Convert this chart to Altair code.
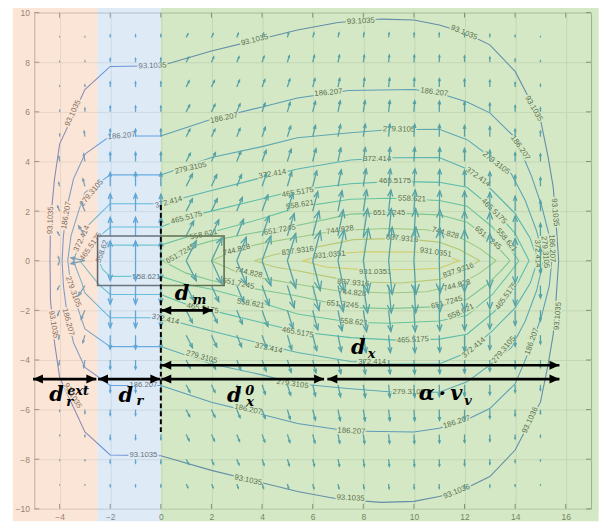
import altair as alt
import pandas as pd

# ---------------- axes ----------------
X_DOMAIN = [-5, 17]
Y_DOMAIN = [-10, 10]
X_TICKS = [-4, -2, 0, 2, 4, 6, 8, 10, 12, 14, 16]
Y_TICKS = [-10, -8, -6, -4, -2, 0, 2, 4, 6, 8, 10]

# ---------------- contour levels ----------------
LEVELS = ["93.1035", "186.207", "279.3105", "372.414", "465.5175",
          "558.621", "651.7245", "744.828", "837.9316", "931.0351"]
LEVEL_COLORS = ["#1d4abe", "#1066db", "#137ed7", "#0c94cf", "#0da7c3",
                "#27b4ab", "#56ba90", "#8ebf74", "#c8bc5a", "#fac637"]

# upper half of each contour; the field is mirror-symmetric in y
C1_X = [-4.38, -4.36, -4.2, -4.0, -3.0, -2.0, 0.0, 2.0, 4.0, 5.4, 7.0, 8.7, 10.0, 11.0, 12.0, 13.0, 14.0, 14.5, 15.0, 15.3, 15.5, 15.6, 15.72]
C1_Y = [0.0, 1.6, 3.3, 4.7, 6.9, 7.83, 7.86, 8.45, 8.95, 9.3, 9.6, 9.74, 9.7, 9.5, 9.2, 8.7, 7.63, 6.65, 5.7, 4.2, 3.0, 1.8, 0.0]
C2_X = [-3.9, -3.85, -3.7, -3.45, -3.0, -2.0, 0.0, 2.0, 4.0, 5.4, 7.4, 10.0, 11.0, 12.1, 13.0, 14.0, 14.65, 15.05, 15.35, 15.45]
C2_Y = [0.0, 1.0, 2.2, 3.3, 4.3, 5.03, 5.03, 5.7, 6.2, 6.56, 6.86, 6.9, 6.75, 6.4, 5.96, 4.96, 3.4, 2.2, 1.0, 0.0]
C3_X = [-3.68, -3.55, -3.25, -3.0, -2.0, 0.0, 2.0, 4.0, 5.4, 7.5, 9.0, 11.0, 12.1, 13.0, 13.85, 14.4, 14.85, 15.12]
C3_Y = [0.0, 1.0, 2.0, 2.75, 3.46, 3.46, 4.16, 4.6, 4.96, 5.16, 5.28, 5.3, 4.88, 4.2, 3.5, 2.43, 1.2, 0.0]
C4_X = [-3.46, -3.12, -3.0, -2.0, 0.0, 2.0, 4.0, 5.4, 7.5, 9.0, 11.0, 12.1, 13.1, 14.0, 14.6, 14.88]
C4_Y = [0.0, 0.89, 1.3, 2.3, 2.3, 2.83, 3.35, 3.7, 4.06, 4.15, 4.16, 3.7, 2.83, 1.9, 0.9, 0.0]
C5_X = [-3.2, -2.76, -2.4, -2.0, 0.0, 1.0, 2.0, 4.0, 5.4, 7.5, 9.3, 11.0, 12.1, 13.2, 14.0, 14.55]
C5_Y = [0.0, 0.57, 1.0, 1.36, 1.36, 1.75, 2.0, 2.5, 2.85, 3.1, 3.2, 3.16, 2.96, 2.03, 1.1, 0.0]
C6_X = [-2.45, -2.3, -2.0, 0.0, 1.0, 2.0, 4.0, 5.4, 7.5, 9.0, 11.0, 12.1, 13.1, 13.7, 14.15]
C6_Y = [0.0, 0.35, 0.63, 0.63, 0.95, 1.15, 1.7, 2.15, 2.48, 2.52, 2.43, 2.2, 1.36, 0.6, 0.0]
C7_X = [0.05, 1.0, 2.0, 3.0, 4.1, 5.3, 7.5, 9.0, 11.0, 12.1, 12.9, 13.4, 13.8]
C7_Y = [0.0, 0.5, 0.8, 1.0, 1.2, 1.4, 1.88, 1.93, 1.85, 1.55, 0.95, 0.45, 0.0]
C8_X = [2.0, 3.0, 4.0, 5.4, 7.0, 9.0, 10.5, 11.8, 12.6, 13.25]
C8_Y = [0.0, 0.45, 0.7, 0.95, 1.22, 1.3, 1.25, 0.95, 0.5, 0.0]
C9_X = [3.7, 4.5, 5.4, 7.0, 7.6, 9.5, 11.0, 11.8, 12.6]
C9_Y = [0.0, 0.25, 0.4, 0.72, 0.85, 0.9, 0.75, 0.45, 0.0]
C10_X = [5.6, 6.5, 8.0, 10.0, 11.0, 11.8]
C10_Y = [0.0, 0.25, 0.36, 0.35, 0.3, 0.0]

CONTOURS_X = [C1_X, C2_X, C3_X, C4_X, C5_X, C6_X, C7_X, C8_X, C9_X, C10_X]
CONTOURS_Y = [C1_Y, C2_Y, C3_Y, C4_Y, C5_Y, C6_Y, C7_Y, C8_Y, C9_Y, C10_Y]

# contour labels: text, x, y, rotation (deg, clockwise)
LABEL_TEXT = [
    "93.1035", "93.1035", "93.1035", "93.1035", "93.1035", "93.1035", "93.1035", "93.1035",
    "186.207", "186.207", "186.207", "186.207", "186.207", "186.207", "186.207",
    "279.3105", "279.3105", "279.3105", "279.3105", "279.3105",
    "372.414", "372.414", "372.414", "372.414", "372.414", "372.414",
    "465.5175", "465.5175", "465.5175", "465.5175", "465.5175",
    "558.62", "558.621", "558.621", "558.621", "558.621",
    "651.7245", "651.7245", "651.7245", "651.7245",
    "744.828", "744.828", "744.828",
    "837.9316", "837.9316",
    "931.0351", "931.0351",
    "93.1035", "93.1035", "93.1035", "93.1035", "93.1035", "93.1036", "93.1036", "93.1035",
    "186.207", "186.207", "186.207", "186.207", "186.207", "186.207",
    "279.3105", "279.3105", "279.3105", "279.3105", "279.3105",
    "372.414", "372.414", "372.414", "372.414",
    "465.5175", "465.5175", "465.5175", "465.5175",
    "558.621", "558.621", "558.621", "558.621",
    "651.7245", "651.7245", "651.7245",
    "744.828", "744.828", "744.828",
    "837.9316", "837.9316",
    "931.0351",
]
LABEL_X = [
    -0.33, -4.35, -3.47, 3.71, 7.9, 11.98, 14.73, 15.57,
    -3.73, -1.55, 2.5, 6.62, 10.8, 14.2, 15.45,
    -2.73, 1.18, 9.41, 13.25, 15.18,
    -3.12, 0.31, 4.41, 8.55, 12.53, 14.88,
    -2.76, 1.02, 5.41, 9.25, 13.16,
    -2.31, 1.69, 5.5, 9.92, 13.65,
    0.78, 4.7, 9.02, 12.92,
    3.0, 7.08, 11.24,
    5.41, 9.53,
    6.67, 10.86,
    -4.25, -3.49, -0.69, 3.45, 7.5, 11.69, 14.6, 15.69,
    -3.67, -0.69, 3.45, 7.53, 11.69, 14.67,
    -3.47, 1.61, 5.2, 9.79, 13.55,
    0.18, 4.26, 8.35, 12.37,
    1.65, 5.41, 9.96, 13.65,
    -0.57, 3.55, 7.63, 11.86,
    3.06, 7.18, 11.3,
    3.47, 7.57, 11.7,
    7.6, 11.76,
    8.47,
]
LABEL_Y = [
    7.85, 1.63, 5.95, 8.89, 9.65, 9.19, 6.13, 1.95,
    1.83, 5.03, 5.75, 6.77, 6.79, 4.55, 0.5,
    2.73, 3.73, 5.29, 3.93, 0.35,
    0.89, 2.35, 3.49, 4.09, 3.37, 0.29,
    0.57, 1.73, 2.75, 3.23, 1.99,
    0.37, 1.05, 2.25, 2.49, 0.83,
    0.27, 1.23, 1.93, 0.91,
    0.43, 1.23, 1.11,
    0.39, 0.89,
    0.23, 0.33,
    -2.57, -5.45, -7.83, -8.85, -9.57, -9.31, -6.43, -2.23,
    -2.47, -4.99, -6.0, -6.87, -6.51, -3.25,
    -1.25, -3.89, -4.97, -5.3, -3.59,
    -2.37, -3.53, -4.1, -3.51,
    -1.93, -2.9, -3.19, -1.43,
    -0.65, -1.73, -2.48, -2.07,
    -0.93, -1.77, -1.69,
    -0.49, -1.3, -1.0,
    -0.9, -0.4,
    -0.45,
]
LABEL_ANGLE = [
    358, 272, 295, 346, 357, 22, 60, 85,
    280, 355, 348, 355, 8, 55, 88,
    310, 347, 1, 38, 85,
    295, 345, 350, 0, 35, 88,
    305, 345, 350, 0, 45,
    290, 348, 350, 2, 50,
    330, 350, 0, 40,
    345, 352, 15,
    352, 5,
    355, 8,
    80, 60, 0, 12, 3, 338, 295, 275,
    75, 0, 12, 3, 342, 290,
    70, 15, 8, 0, 310,
    12, 12, 0, 320,
    10, 10, 357, 305,
    0, 10, 5, 335,
    12, 5, 345,
    12, 5, 345,
    5, 340,
    0,
]

# ---------------- quiver (upper half rows y = 0..9; lower half is the mirror) ----------------
Q_COLS = [-4, -3, -2, -1, 0, 1, 2, 3, 4, 5, 6, 7, 8, 9, 10, 11, 12, 13, 14, 15]
Q_ROWS = [0, 1, 2, 3, 4, 5, 6, 7, 8, 9]
Q_V = [
    [0.15, 0.12, 0.80, 0.80, 0.80, 0.80, 0.93, 0.95, 1.00, 1.10, 1.20, 1.25, 1.30, 1.35, 1.35, 1.30, 1.25, 1.10, 0.90, 0.50],
    [0.15, 0.40, 0.75, 0.75, 0.75, 0.60, 0.65, 0.67, 0.80, 0.90, 1.00, 1.05, 1.10, 1.10, 1.10, 1.05, 1.00, 0.95, 0.80, 0.50],
    [0.20, 0.35, 0.70, 0.70, 0.68, 0.50, 0.50, 0.55, 0.65, 0.72, 0.78, 0.82, 0.85, 0.85, 0.85, 0.82, 0.80, 0.75, 0.60, 0.42],
    [0.15, 0.30, 0.56, 0.56, 0.55, 0.50, 0.47, 0.47, 0.52, 0.58, 0.62, 0.66, 0.70, 0.70, 0.70, 0.68, 0.65, 0.58, 0.45, 0.35],
    [0.20, 0.30, 0.36, 0.36, 0.36, 0.33, 0.36, 0.40, 0.45, 0.50, 0.52, 0.55, 0.56, 0.56, 0.56, 0.55, 0.52, 0.45, 0.35, 0.30],
    [0.10, 0.22, 0.30, 0.30, 0.30, 0.30, 0.30, 0.33, 0.38, 0.42, 0.45, 0.48, 0.50, 0.50, 0.50, 0.48, 0.45, 0.40, 0.30, 0.22],
    [0.06, 0.15, 0.23, 0.23, 0.23, 0.28, 0.30, 0.32, 0.35, 0.38, 0.42, 0.44, 0.45, 0.45, 0.45, 0.43, 0.40, 0.35, 0.25, 0.16],
    [0.04, 0.08, 0.20, 0.20, 0.20, 0.25, 0.26, 0.28, 0.30, 0.32, 0.34, 0.35, 0.36, 0.36, 0.36, 0.34, 0.32, 0.28, 0.18, 0.10],
    [0.03, 0.05, 0.15, 0.15, 0.16, 0.20, 0.21, 0.22, 0.24, 0.26, 0.27, 0.28, 0.28, 0.28, 0.28, 0.27, 0.25, 0.20, 0.12, 0.06],
    [0.02, 0.03, 0.10, 0.10, 0.11, 0.14, 0.15, 0.16, 0.17, 0.18, 0.18, 0.18, 0.18, 0.18, 0.18, 0.17, 0.16, 0.12, 0.08, 0.03],
]
Q_U = [
    [-0.05, -0.55, 0, 0, 0, 0.40, 0.42, 0.38, 0.35, 0.33, 0.30, 0.25, 0.20, 0.14, 0.08, 0.04, 0, 0, 0, 0],
    [-0.08, -0.25, 0, 0, 0, 0.30, 0.29, 0.27, 0.28, 0.27, 0.25, 0.21, 0.17, 0.11, 0.07, 0.03, 0, 0, 0, 0],
    [-0.08, -0.15, 0, 0, 0, 0.25, 0.23, 0.22, 0.23, 0.22, 0.20, 0.16, 0.13, 0.09, 0.05, 0.02, 0, 0, 0, 0],
    [-0.04, -0.08, 0, 0, 0, 0.25, 0.21, 0.19, 0.18, 0.17, 0.16, 0.13, 0.11, 0.07, 0.04, 0.02, 0, 0, 0, 0],
    [-0.03, -0.05, 0, 0, 0, 0.17, 0.16, 0.16, 0.16, 0.15, 0.13, 0.11, 0.08, 0.06, 0.03, 0.02, 0, 0, 0, 0],
    [0, -0.03, 0, 0, 0, 0.15, 0.14, 0.13, 0.13, 0.13, 0.11, 0.10, 0.08, 0.05, 0.03, 0.01, 0, 0, 0, 0],
    [0, 0, 0, 0, 0, 0.14, 0.14, 0.13, 0.12, 0.11, 0.11, 0.09, 0.07, 0.05, 0.03, 0.01, 0, 0, 0, 0],
    [0, 0, 0, 0, 0, 0.12, 0.12, 0.11, 0.11, 0.10, 0.09, 0.07, 0.05, 0.04, 0.02, 0.01, 0, 0, 0, 0],
    [0, 0, 0, 0, 0, 0.10, 0.09, 0.09, 0.08, 0.08, 0.07, 0.06, 0.04, 0.03, 0.02, 0.01, 0, 0, 0, 0],
    [0, 0, 0, 0, 0, 0.07, 0.07, 0.06, 0.06, 0.05, 0.05, 0.04, 0.03, 0.02, 0.01, 0, 0, 0, 0, 0],
]

# ---------------- overlaid regions ----------------
REGION_X0 = [-5.85, -2.5, 0.0]
REGION_X1 = [-2.5, 0.0, 17.3]
REGION_Y0 = [-10.5, -10.5, -10.5]
REGION_Y1 = [10.4, 10.4, 10.4]
REGION_COLOR = ["#f8cbad", "#bdd7ee", "#a9d18e"]

BOX_X = [-2.5, 2.5]
BOX_Y = [-1.0, 1.0]

DASH_X = [0.0]
DASH_Y = [2.25, -6.9]

# dimension arrows (d_r^ext, d_r, d_x^0, alpha*v_v, d_x, d_m)
ARROW_X0 = [-5.05, -2.48, 0.02, 6.58, 0.02, 0.02]
ARROW_X1 = [-2.55, -0.02, 6.45, 15.75, 15.75, 2.05]
ARROW_Y = [-4.77, -4.77, -4.77, -4.77, -4.21, -2.0]

MATH_TEXT = ["d", "d", "d", "d", "d", "α\u2009·\u2009v"]
MATH_X = [-4.12, -1.39, 2.9, 7.8, 0.84, 11.05]
MATH_Y = [-5.42, -5.44, -5.46, -3.52, -1.34, -5.38]
SUB_TEXT = ["r", "r", "x", "x", "m", "v", "ext", "0"]
SUB_X = [-3.6, -0.83, 3.53, 8.33, 1.53, 12.14, -3.27, 3.51]
SUB_Y = [-5.68, -5.66, -5.7, -3.76, -1.6, -5.66, -5.24, -5.27]

# ---------------- tables ----------------
rows = []
for i, (xs, ys) in enumerate(zip(CONTOURS_X, CONTOURS_Y)):
    for k, (xv, yv) in enumerate(zip(xs, ys)):
        rows.append({"x": xv, "y": yv, "seg": f"{i}u", "lev": LEVELS[i], "k": k})
        rows.append({"x": xv, "y": -yv, "seg": f"{i}l", "lev": LEVELS[i], "k": k})
cdf = pd.DataFrame(rows)

ldf = pd.DataFrame({"t": LABEL_TEXT, "x": LABEL_X, "y": LABEL_Y, "ang": LABEL_ANGLE})

qrows = []
for r, yv in enumerate(Q_ROWS):
    for c, xv in enumerate(Q_COLS):
        u, v = Q_U[r][c], Q_V[r][c]
        qrows.append({"x": xv, "y": yv, "u": u, "v": v})
        qrows.append({"x": xv, "y": -yv, "u": u, "v": -v})
qdf = pd.DataFrame(qrows)

tdf = pd.DataFrame({"x0": REGION_X0, "x1": REGION_X1, "y0": REGION_Y0, "y1": REGION_Y1, "c": REGION_COLOR})
bdf = pd.DataFrame({"x0": [BOX_X[0]], "x1": [BOX_X[1]], "y0": [BOX_Y[0]], "y1": [BOX_Y[1]]})
ddf = pd.DataFrame({"x": DASH_X, "y0": [DASH_Y[0]], "y1": [DASH_Y[1]]})
adf = pd.DataFrame({"x0": ARROW_X0, "x1": ARROW_X1, "y": ARROW_Y})
hl = pd.DataFrame({"x": ARROW_X0, "y": ARROW_Y})
hr = pd.DataFrame({"x": ARROW_X1, "y": ARROW_Y})
mdf = pd.DataFrame({"t": MATH_TEXT, "x": MATH_X, "y": MATH_Y})
sdf = pd.DataFrame({"t": SUB_TEXT, "x": SUB_X, "y": SUB_Y})
xt = pd.DataFrame({"v": X_TICKS})
yt = pd.DataFrame({"v": Y_TICKS})

# ---------------- encodings ----------------
W, H = 561, 500
SX = alt.Scale(domain=X_DOMAIN, nice=False, zero=False)
SY = alt.Scale(domain=Y_DOMAIN, nice=False, zero=False)
AX = alt.Axis(values=X_TICKS, grid=True, gridColor="#dcdcdc", gridWidth=1, ticks=False,
              domain=False, labelFontSize=8.5, labelColor="#333333", labelFont="Liberation Sans",
              labelPadding=4, labelFlush=False, title=None, zindex=0)
AY = alt.Axis(values=Y_TICKS, grid=True, gridColor="#dcdcdc", gridWidth=1, ticks=False,
              domain=False, labelFontSize=8.5, labelColor="#333333", labelFont="Liberation Sans",
              labelPadding=5, labelFlush=False, title=None, zindex=0)


def ex(f):
    return alt.X(f"{f}:Q", scale=SX, axis=AX)


def ey(f):
    return alt.Y(f"{f}:Q", scale=SY, axis=AY)


FONT = "Liberation Sans"

ticks_b = alt.Chart(xt).mark_rule(color="#555555", strokeWidth=1).encode(
    x=ex("v"), y=alt.value(H), y2=alt.value(H - 5))
ticks_t = alt.Chart(xt).mark_rule(color="#555555", strokeWidth=1).encode(
    x=ex("v"), y=alt.value(0), y2=alt.value(5))
ticks_l = alt.Chart(yt).mark_rule(color="#555555", strokeWidth=1).encode(
    y=ey("v"), x=alt.value(0), x2=alt.value(5))
ticks_r = alt.Chart(yt).mark_rule(color="#555555", strokeWidth=1).encode(
    y=ey("v"), x=alt.value(W), x2=alt.value(W - 5))

contours = alt.Chart(cdf).mark_line(strokeWidth=1.1).encode(
    x=ex("x"), y=ey("y"), detail="seg:N", order="k:Q",
    color=alt.Color("lev:N", scale=alt.Scale(domain=LEVELS, range=LEVEL_COLORS), legend=None))

halo = alt.Chart(ldf).mark_text(font=FONT, fontSize=7.8, color="white", stroke="white",
                                strokeWidth=3, baseline="middle", align="center").encode(
    x=ex("x"), y=ey("y"), text="t:N", angle=alt.Angle("ang:Q", scale=None))
labels = alt.Chart(ldf).mark_text(font=FONT, fontSize=7.8, color="#000000",
                                  baseline="middle", align="center").encode(
    x=ex("x"), y=ey("y"), text="t:N", angle=alt.Angle("ang:Q", scale=None))

qbase = alt.Chart(qdf).transform_filter("datum.u != 0 || datum.v != 0").transform_calculate(
    x2="datum.x + datum.u",
    y2="datum.y + datum.v",
    lenpx="sqrt(pow(datum.u*25.5, 2) + pow(datum.v*25, 2))",
    ang="(atan2(datum.u*25.5, datum.v*25)*180/PI + 360) % 360",
).transform_calculate(hs="4*pow(0.3*datum.lenpx, 2)")
shafts = qbase.mark_rule(color="#0072bd", strokeWidth=1.3).encode(
    x=ex("x"), y=ey("y"), x2="x2:Q", y2="y2:Q")
heads = qbase.mark_point(shape="M-0.4,1L0,0L0.4,1", filled=False, color="#0072bd",
                         strokeWidth=1.3, opacity=1).encode(
    x=ex("x2"), y=ey("y2"), angle=alt.Angle("ang:Q", scale=None), size=alt.Size("hs:Q", scale=None))

box = alt.Chart(bdf).mark_rect(fillOpacity=0, stroke="#111111", strokeWidth=1.6).encode(
    x=ex("x0"), x2="x1:Q", y=ey("y0"), y2="y1:Q")

tint = alt.Chart(tdf).mark_rect(opacity=0.5).encode(
    x=ex("x0"), x2="x1:Q", y=ey("y0"), y2="y1:Q", color=alt.Color("c:N", scale=None))

dash = alt.Chart(ddf).mark_rule(color="black", strokeWidth=2, strokeDash=[5, 3]).encode(
    x=ex("x"), y=ey("y0"), y2="y1:Q")

arrows = alt.Chart(adf).mark_rule(color="black", strokeWidth=2.6).encode(
    x=ex("x0"), x2="x1:Q", y=ey("y"))
heads_l = alt.Chart(hl).mark_point(shape="M0,0L1,-0.45L1,0.45Z", filled=True, color="black",
                                   size=400, opacity=1).encode(x=ex("x"), y=ey("y"))
heads_r = alt.Chart(hr).mark_point(shape="M0,0L-1,-0.45L-1,0.45Z", filled=True, color="black",
                                   size=400, opacity=1).encode(x=ex("x"), y=ey("y"))

math_main = alt.Chart(mdf).mark_text(font="DejaVu Serif", fontStyle="italic", fontWeight="bold",
                                     fontSize=21, color="black", baseline="middle",
                                     align="center").encode(x=ex("x"), y=ey("y"), text="t:N")
math_sub = alt.Chart(sdf).mark_text(font="DejaVu Serif", fontStyle="italic", fontWeight="bold",
                                    fontSize=13, color="black", baseline="middle",
                                    align="center").encode(x=ex("x"), y=ey("y"), text="t:N")

chart = alt.layer(
    contours, halo, labels, shafts, heads, box, ticks_b, ticks_t, ticks_l, ticks_r,
    tint, dash, arrows, heads_l, heads_r, math_main, math_sub,
).properties(
    width=W, height=H,
    padding={"left": 26.5, "top": 2.7, "right": 8, "bottom": 15},
    autosize=alt.AutoSizeParams(type="none"),
).configure_view(stroke="#8c8c8c", strokeWidth=1)

chart.save("out.html", embed_options={"renderer": "svg", "actions": False})
